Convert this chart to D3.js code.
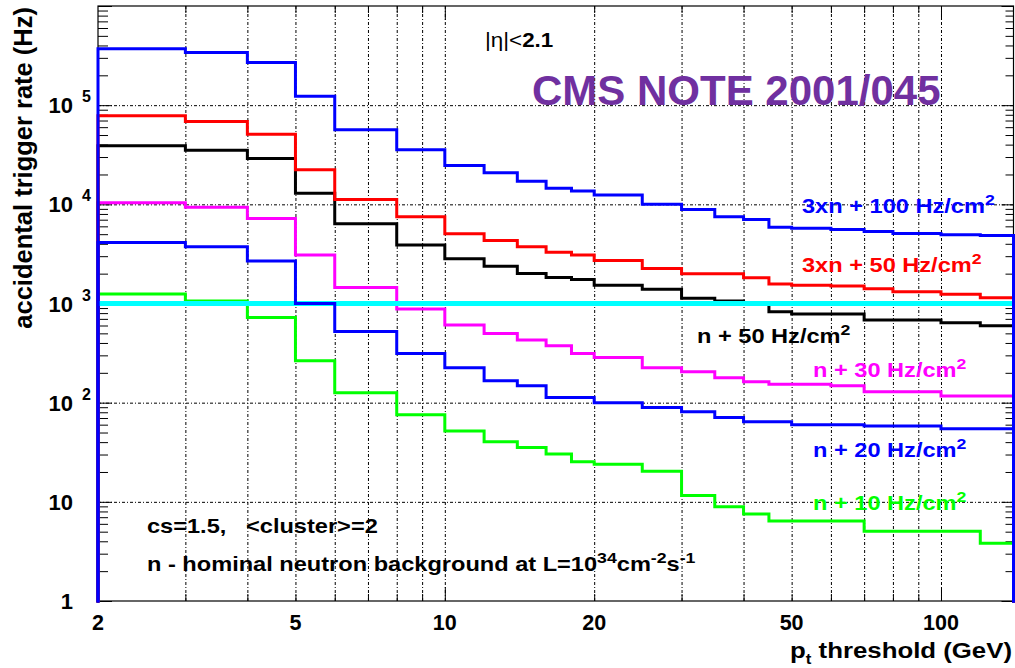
<!DOCTYPE html>
<html><head><meta charset="utf-8">
<script src="https://cdn.jsdelivr.net/npm/d3@7"></script>
<style>
html,body{margin:0;padding:0;background:#fff;}
svg{display:block;font-family:"Liberation Sans",Arial,Helvetica,sans-serif;}
</style></head><body>
<svg id="chart" width="1015" height="668"></svg>
<script>
// pt threshold bin edges (GeV)
const ptEdges = [2,3,4,5,6,8,10,12,14,16,18,20,25,30,35,40,45,50,60,70,80,100,120,140];

// accidental trigger rate per threshold bin (Hz)
const rate3xn100 = [3.70e5,3.40e5,2.69e5,1.23e5,5.64e4,3.55e4,2.47e4,2.08e4,1.71e4,1.45e4,1.36e4,1.24e4,1.00e4,8.88e3,7.48e3,7.04e3,5.89e3,5.75e3,5.58e3,5.33e3,5.09e3,4.93e3,4.86e3];
const rate3xn50  = [7.80e4,6.84e4,5.10e4,2.23e4,1.12e4,7.48e3,5.05e3,4.33e3,3.73e3,3.28e3,3.08e3,2.72e3,2.26e3,2.00e3,2.00e3,1.82e3,1.57e3,1.53e3,1.50e3,1.41e3,1.31e3,1.24e3,1.14e3];
const rateN50    = [3.89e4,3.52e4,2.90e4,1.29e4,6.37e3,3.88e3,2.83e3,2.37e3,2.01e3,1.83e3,1.75e3,1.53e3,1.39e3,1.13e3,1.06e3,1.00e3,824,782,782,680,680,639,596];
const rateN30    = [1.04e4,9.37e3,7.21e3,3.08e3,1.45e3,879,606,499,428,375,314,286,225,205,178,163,153,153,148,129,129,117,117];
const rateN20    = [4.13e3,3.73e3,2.68e3,1.00e3,523,314,225,166,148,113,113,99.8,89.6,81.0,71.0,64.2,64.2,60.0,60.0,58.1,58.1,54.6,54.6];
const rateN10    = [1.25e3,1.06e3,724,264,126,75.5,51.7,40.3,35.4,30.3,25.4,23.9,20.4,11.6,8.93,7.53,6.40,6.40,6.40,5.04,5.04,5.04,3.82];

// horizontal reference level (Hz)
const referenceRate = 1000;

// axis tick values
const xLabelTicks = [2,5,10,20,50,100];
const xGridTicks = [3,4,5,6,7,8,9,10,20,30,40,50,60,70,80,90,100];
const xMajorTicks = [10,100];
const yExponents = [0,1,2,3,4,5];

const W = 1015, H = 668;
const plot = {left: 98, right: 1013.5, top: 6, bottom: 601};

const x = d3.scaleLog().domain([2, 140]).range([plot.left, plot.right]);
const y = d3.scaleLog().domain([1, 1e6]).range([plot.bottom, plot.top]);

const svg = d3.select("#chart");
svg.append("rect").attr("width", W).attr("height", H).attr("fill", "#fff");

// minor y ticks 2..9 per decade
const yMinor = [];
for (let e = 0; e < 6; e++) for (let k = 2; k <= 9; k++) yMinor.push(k * Math.pow(10, e));
const yMajor = yExponents.map(e => Math.pow(10, e)).concat([1e6]);
const yGrid = [10, 100, 1000, 1e4, 1e5];

// grid
const gridStyle = g => g.call(s => s.select(".domain").remove())
  .selectAll("line").attr("stroke", "#000").attr("stroke-width", 1).attr("stroke-dasharray", "3,2,1,2");

svg.append("g").attr("transform", `translate(0,${plot.bottom})`)
  .call(d3.axisBottom(x).tickValues(xGridTicks).tickSize(-(plot.bottom - plot.top)).tickFormat(""))
  .call(gridStyle);
svg.append("g").attr("transform", `translate(${plot.left},0)`)
  .call(d3.axisLeft(y).tickValues(yGrid).tickSize(-(plot.right - plot.left)).tickFormat(""))
  .call(gridStyle);

// tick marks on all four sides, pointing inward
const tickStyle = g => g.call(s => s.select(".domain").remove())
  .selectAll("line").attr("stroke", "#000").attr("stroke-width", 1);

const xMinorTicks = xGridTicks.filter(v => !xMajorTicks.includes(v));
svg.append("g").attr("transform", `translate(0,${plot.bottom})`)
  .call(d3.axisTop(x).tickValues(xMinorTicks).tickSize(7).tickFormat("")).call(tickStyle);
svg.append("g").attr("transform", `translate(0,${plot.bottom})`)
  .call(d3.axisTop(x).tickValues(xMajorTicks).tickSize(14).tickFormat("")).call(tickStyle);
svg.append("g").attr("transform", `translate(0,${plot.top})`)
  .call(d3.axisBottom(x).tickValues(xMinorTicks).tickSize(7).tickFormat("")).call(tickStyle);
svg.append("g").attr("transform", `translate(0,${plot.top})`)
  .call(d3.axisBottom(x).tickValues(xMajorTicks).tickSize(14).tickFormat("")).call(tickStyle);

svg.append("g").attr("transform", `translate(${plot.left},0)`)
  .call(d3.axisRight(y).tickValues(yMinor).tickSize(10).tickFormat("")).call(tickStyle);
svg.append("g").attr("transform", `translate(${plot.left},0)`)
  .call(d3.axisRight(y).tickValues(yMajor).tickSize(14).tickFormat("")).call(tickStyle);
svg.append("g").attr("transform", `translate(${plot.right},0)`)
  .call(d3.axisLeft(y).tickValues(yMinor).tickSize(8).tickFormat("")).call(tickStyle);
svg.append("g").attr("transform", `translate(${plot.right},0)`)
  .call(d3.axisLeft(y).tickValues(yMajor).tickSize(12).tickFormat("")).call(tickStyle);

// frame
svg.append("rect")
  .attr("x", plot.left).attr("y", plot.top)
  .attr("width", plot.right - plot.left).attr("height", plot.bottom - plot.top)
  .attr("fill", "none").attr("stroke", "#000").attr("stroke-width", 1.2);

// x tick labels
svg.append("g").selectAll("text").data(xLabelTicks).join("text")
  .attr("x", d => x(d)).attr("y", plot.bottom + 29)
  .attr("text-anchor", "middle").attr("font-size", 21.5).attr("font-weight", "bold")
  .text(d => d);

// y tick labels: 1, 10, 10^2 ... 10^5
const yLab = svg.append("g");
yExponents.forEach(e => {
  const yy = y(Math.pow(10, e));
  yLab.append("text").attr("x", 73).attr("y", yy + 8)
    .attr("text-anchor", "end").attr("font-size", 22).attr("font-weight", "bold")
    .text(e === 0 ? "1" : "10");
  if (e >= 2) {
    yLab.append("text").attr("x", 82).attr("y", yy - 3)
      .attr("font-size", 16).attr("font-weight", "bold").text(e);
  }
});

// axis titles
svg.append("text")
  .attr("transform", `translate(32,7) rotate(-90)`)
  .attr("text-anchor", "end").attr("font-size", 25.5).attr("font-weight", "bold")
  .text("accidental trigger rate (Hz)");

const xt = svg.append("g").attr("transform", `translate(1012,658) scale(1.2,1)`)
  .append("text").attr("text-anchor", "end").attr("font-size", 21.5).attr("font-weight", "bold");
xt.append("tspan").text("p");
xt.append("tspan").attr("font-size", 14).attr("dy", 6).text("t");
xt.append("tspan").attr("dy", -6).text(" threshold (GeV)");

// histograms as closed step outlines
function stepPoints(values) {
  const pts = [[ptEdges[0], 1]];
  values.forEach((v, i) => { pts.push([ptEdges[i], v]); pts.push([ptEdges[i + 1], v]); });
  pts.push([ptEdges[ptEdges.length - 1], 1]);
  return pts;
}
const line = d3.line().x(d => x(d[0])).y(d => y(d[1]));

const drawHist = (values, color) => svg.append("path")
  .attr("d", line(stepPoints(values)))
  .attr("fill", "none").attr("stroke", color).attr("stroke-width", 3)
  .attr("stroke-linejoin", "miter").attr("stroke-linecap", "square");

drawHist(rateN10, "#00ff00");
drawHist(rateN30, "#ff00ff");
drawHist(rateN50, "#000000");
drawHist(rate3xn50, "#ff0000");

svg.append("line")
  .attr("x1", x(ptEdges[0])).attr("x2", x(ptEdges[ptEdges.length - 1]))
  .attr("y1", y(referenceRate)).attr("y2", y(referenceRate))
  .attr("stroke", "#00ffff").attr("stroke-width", 5);

drawHist(rateN20, "#0000ff");
drawHist(rate3xn100, "#0000ff");

// annotations
function label(xp, yp, parts, color, size, sx) {
  const t = svg.append("g").attr("transform", `translate(${xp},${yp}) scale(${sx},1)`)
    .append("text").attr("fill", color).attr("font-size", size).attr("font-weight", "bold");
  parts.forEach(p => {
    const s = t.append("tspan").text(p.t);
    if (p.sup) s.attr("font-size", size * 0.75).attr("dy", -8);
    if (p.back) s.attr("dy", 8);
    if (p.w) s.attr("font-weight", p.w);
  });
  return t;
}

label(485, 47, [{t: "|η|<", w: "normal"}, {t: "2.1"}], "#000", 20, 1.12);
svg.append("text").attr("x", 532).attr("y", 105)
  .attr("fill", "#7030a0").attr("font-size", 42).attr("font-weight", "bold")
  .text("CMS NOTE 2001/045");

const cm2 = txt => [{t: txt + " Hz/cm"}, {t: "2", sup: true}];
label(802, 213, cm2("3xn + 100"), "#0000ff", 20, 1.18);
label(802, 272, cm2("3xn + 50"), "#ff0000", 20, 1.18);
label(697, 343, cm2("n + 50"), "#000000", 20, 1.18);
label(813, 377, cm2("n + 30"), "#ff00ff", 20, 1.18);
label(813, 457, cm2("n + 20"), "#0000ff", 20, 1.18);
label(813, 510, cm2("n + 10"), "#00ff00", 20, 1.18);

label(147, 533, [{t: "cs=1.5,\u00a0\u00a0\u00a0<cluster>=2"}], "#000", 20, 1.18);
label(147, 571, [
  {t: "n - hominal neutron background at L=10"},
  {t: "34", sup: true}, {t: "cm", back: true},
  {t: "-2", sup: true}, {t: "s", back: true},
  {t: "-1", sup: true}
], "#000", 20, 1.18);
</script>
</body></html>
